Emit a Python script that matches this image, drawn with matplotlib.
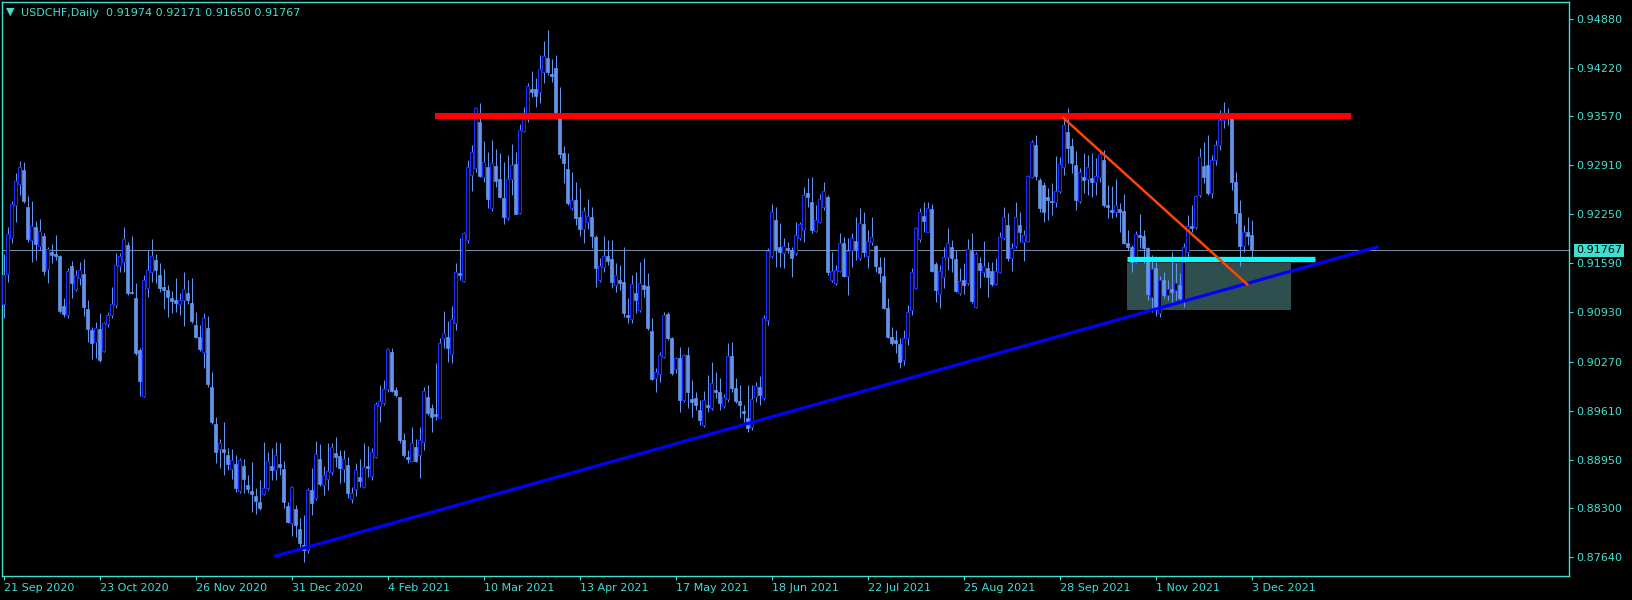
import numpy as np
import matplotlib.pyplot as plt
from matplotlib.patches import Rectangle
import matplotlib.transforms as mtransforms

# USDCHF daily, 21 Sep 2020 .. 3 Dec 2021 (one entry per bar)
opens = [
    0.9104, 0.9145, 0.9193, 0.9237, 0.9266, 0.9285, 0.9235, 0.9190, 0.9208, 0.9182,
    0.9196, 0.9151, 0.9174, 0.9172, 0.9169, 0.9102, 0.9090, 0.9155, 0.9125, 0.9139,
    0.9145, 0.9098, 0.9070, 0.9053, 0.9071, 0.9041, 0.9077, 0.9090, 0.9103, 0.9155,
    0.9161, 0.9184, 0.9120, 0.9112, 0.9043, 0.8981, 0.9126, 0.9147, 0.9164, 0.9143,
    0.9127, 0.9123, 0.9112, 0.9110, 0.9104, 0.9110, 0.9119, 0.9106, 0.9076, 0.9060,
    0.9040, 0.9072, 0.8993, 0.8943, 0.8910, 0.8910, 0.8901, 0.8883, 0.8889, 0.8853,
    0.8887, 0.8861, 0.8853, 0.8846, 0.8838, 0.8849, 0.8857, 0.8887, 0.8881, 0.8889,
    0.8883, 0.8833, 0.8810, 0.8829, 0.8802, 0.8781, 0.8774, 0.8854, 0.8844, 0.8896,
    0.8861, 0.8869, 0.8879, 0.8904, 0.8900, 0.8883, 0.8888, 0.8842, 0.8856, 0.8872,
    0.8858, 0.8887, 0.8873, 0.8899, 0.8967, 0.8971, 0.8990, 0.9040, 0.8989, 0.8979,
    0.8922, 0.8899, 0.8893, 0.8912, 0.8901, 0.8919, 0.8979, 0.8965, 0.8957, 0.8951,
    0.9059, 0.9060, 0.9037, 0.9079, 0.9146, 0.9135, 0.9190, 0.9278, 0.9287, 0.9349,
    0.9275, 0.9288, 0.9233, 0.9290, 0.9272, 0.9247, 0.9220, 0.9272, 0.9292, 0.9227,
    0.9337, 0.9353, 0.9393, 0.9393, 0.9389, 0.9416, 0.9435, 0.9413, 0.9422, 0.9358,
    0.9307, 0.9286, 0.9233, 0.9244, 0.9221, 0.9205, 0.9215, 0.9221, 0.9194, 0.9137,
    0.9154, 0.9169, 0.9165, 0.9130, 0.9137, 0.9134, 0.9090, 0.9084, 0.9119, 0.9096,
    0.9130, 0.9129, 0.9068, 0.9005, 0.9010, 0.9033, 0.9091, 0.9059, 0.9017, 0.9032,
    0.8975, 0.9036, 0.8977, 0.8978, 0.8962, 0.8942, 0.8969, 0.8965, 0.8989, 0.8986,
    0.8967, 0.8977, 0.9035, 0.8992, 0.8974, 0.8961, 0.8951, 0.8939, 0.8979, 0.8993,
    0.8978, 0.9083, 0.9169, 0.9217, 0.9181, 0.9173, 0.9180, 0.9177, 0.9173, 0.9193,
    0.9204, 0.9254, 0.9241, 0.9203, 0.9215, 0.9235, 0.9248, 0.9137, 0.9133, 0.9149,
    0.9186, 0.9142, 0.9177, 0.9189, 0.9166, 0.9212, 0.9169, 0.9188, 0.9182, 0.9154,
    0.9142, 0.9099, 0.9060, 0.9056, 0.9051, 0.9029, 0.9059, 0.9096, 0.9126, 0.9192,
    0.9223, 0.9201, 0.9232, 0.9158, 0.9118, 0.9141, 0.9167, 0.9181, 0.9165, 0.9119,
    0.9137, 0.9133, 0.9176, 0.9100, 0.9160, 0.9147, 0.9153, 0.9149, 0.9131, 0.9147,
    0.9193, 0.9211, 0.9166, 0.9182, 0.9211, 0.9188, 0.9189, 0.9275, 0.9318, 0.9271,
    0.9264, 0.9248, 0.9243, 0.9241, 0.9256, 0.9288, 0.9335, 0.9317, 0.9291, 0.9243,
    0.9275, 0.9272, 0.9274, 0.9268, 0.9275, 0.9298, 0.9237, 0.9231, 0.9228, 0.9232,
    0.9229, 0.9186, 0.9181, 0.9161, 0.9197, 0.9196, 0.9180, 0.9114, 0.9153, 0.9092,
    0.9137, 0.9116, 0.9125, 0.9123, 0.9130, 0.9110, 0.9174, 0.9209, 0.9208, 0.9251,
    0.9290, 0.9291, 0.9254, 0.9298, 0.9318, 0.9352, 0.9361, 0.9354, 0.9268, 0.9227,
    0.9182, 0.9201, 0.91974,
]
highs = [
    0.9172, 0.9208, 0.9243, 0.9280, 0.9297, 0.9295, 0.9249, 0.9243, 0.9216, 0.9219,
    0.9200, 0.9181, 0.9185, 0.9197, 0.9170, 0.9112, 0.9153, 0.9162, 0.9150, 0.9161,
    0.9165, 0.9110, 0.9073, 0.9080, 0.9092, 0.9080, 0.9094, 0.9127, 0.9173, 0.9173,
    0.9208, 0.9188, 0.9196, 0.9133, 0.9045, 0.9143, 0.9177, 0.9192, 0.9172, 0.9160,
    0.9151, 0.9130, 0.9122, 0.9139, 0.9119, 0.9147, 0.9137, 0.9139, 0.9094, 0.9076,
    0.9092, 0.9088, 0.9013, 0.8953, 0.8923, 0.8946, 0.8911, 0.8910, 0.8901, 0.8897,
    0.8896, 0.8875, 0.8892, 0.8857, 0.8868, 0.8919, 0.8905, 0.8911, 0.8919, 0.8918,
    0.8893, 0.8838, 0.8860, 0.8834, 0.8817, 0.8821, 0.8857, 0.8884, 0.8920, 0.8916,
    0.8887, 0.8918, 0.8918, 0.8926, 0.8908, 0.8908, 0.8899, 0.8858, 0.8891, 0.8896,
    0.8918, 0.8914, 0.8911, 0.8973, 0.8996, 0.9002, 0.9045, 0.9045, 0.8993, 0.8979,
    0.8931, 0.8908, 0.8939, 0.8923, 0.8939, 0.8993, 0.8996, 0.8970, 0.9025, 0.9059,
    0.9095, 0.9082, 0.9102, 0.9160, 0.9193, 0.9201, 0.9298, 0.9318, 0.9369, 0.9374,
    0.9323, 0.9309, 0.9325, 0.9313, 0.9307, 0.9295, 0.9305, 0.9319, 0.9309, 0.9346,
    0.9369, 0.9401, 0.9417, 0.9408, 0.9439, 0.9458, 0.9473, 0.9434, 0.9439, 0.9396,
    0.9317, 0.9307, 0.9282, 0.9268, 0.9260, 0.9235, 0.9246, 0.9235, 0.9197, 0.9166,
    0.9196, 0.9190, 0.9190, 0.9160, 0.9157, 0.9181, 0.9112, 0.9143, 0.9147, 0.9161,
    0.9166, 0.9146, 0.9086, 0.9018, 0.9040, 0.9094, 0.9094, 0.9060, 0.9033, 0.9047,
    0.9037, 0.9047, 0.9002, 0.8986, 0.8975, 0.8988, 0.9009, 0.9026, 0.9013, 0.9005,
    0.8984, 0.9052, 0.9053, 0.9005, 0.8996, 0.8969, 0.8996, 0.8996, 0.9000, 0.9008,
    0.9090, 0.9180, 0.9239, 0.9235, 0.9213, 0.9193, 0.9188, 0.9181, 0.9215, 0.9215,
    0.9262, 0.9274, 0.9275, 0.9237, 0.9252, 0.9268, 0.9251, 0.9174, 0.9157, 0.9200,
    0.9194, 0.9193, 0.9200, 0.9221, 0.9233, 0.9228, 0.9204, 0.9221, 0.9184, 0.9167,
    0.9167, 0.9112, 0.9073, 0.9070, 0.9059, 0.9070, 0.9103, 0.9153, 0.9208, 0.9233,
    0.9241, 0.9241, 0.9239, 0.9161, 0.9157, 0.9181, 0.9207, 0.9190, 0.9177, 0.9153,
    0.9160, 0.9192, 0.9200, 0.9174, 0.9168, 0.9189, 0.9161, 0.9161, 0.9166, 0.9201,
    0.9235, 0.9227, 0.9186, 0.9241, 0.9228, 0.9204, 0.9278, 0.9325, 0.9332, 0.9274,
    0.9268, 0.9260, 0.9267, 0.9303, 0.9302, 0.9354, 0.9368, 0.9327, 0.9310, 0.9287,
    0.9307, 0.9305, 0.9307, 0.9301, 0.9311, 0.9311, 0.9264, 0.9263, 0.9272, 0.9240,
    0.9252, 0.9204, 0.9184, 0.9203, 0.9225, 0.9204, 0.9181, 0.9170, 0.9161, 0.9142,
    0.9147, 0.9137, 0.9174, 0.9160, 0.9146, 0.9186, 0.9224, 0.9237, 0.9251, 0.9314,
    0.9322, 0.9331, 0.9305, 0.9325, 0.9365, 0.9376, 0.9368, 0.9358, 0.9282, 0.9244,
    0.9211, 0.9221, 0.92171,
]
lows = [
    0.9086, 0.9134, 0.9186, 0.9215, 0.9251, 0.9240, 0.9188, 0.9161, 0.9164, 0.9177,
    0.9143, 0.9133, 0.9160, 0.9164, 0.9092, 0.9087, 0.9086, 0.9112, 0.9122, 0.9130,
    0.9088, 0.9053, 0.9030, 0.9032, 0.9026, 0.9040, 0.9073, 0.9086, 0.9099, 0.9147,
    0.9147, 0.9116, 0.9118, 0.9036, 0.8981, 0.8979, 0.9114, 0.9134, 0.9133, 0.9120,
    0.9098, 0.9087, 0.9092, 0.9094, 0.9090, 0.9075, 0.9104, 0.9079, 0.9059, 0.9041,
    0.9018, 0.8993, 0.8943, 0.8891, 0.8884, 0.8875, 0.8881, 0.8869, 0.8852, 0.8850,
    0.8850, 0.8850, 0.8825, 0.8822, 0.8828, 0.8848, 0.8854, 0.8868, 0.8868, 0.8875,
    0.8830, 0.8810, 0.8793, 0.8791, 0.8777, 0.8758, 0.8770, 0.8821, 0.8841, 0.8860,
    0.8848, 0.8854, 0.8875, 0.8885, 0.8864, 0.8865, 0.8844, 0.8837, 0.8846, 0.8858,
    0.8857, 0.8872, 0.8868, 0.8898, 0.8946, 0.8969, 0.8986, 0.8986, 0.8979, 0.8918,
    0.8899, 0.8891, 0.8892, 0.8892, 0.8871, 0.8908, 0.8955, 0.8932, 0.8949, 0.8951,
    0.9045, 0.9026, 0.9025, 0.9070, 0.9137, 0.9134, 0.9186, 0.9256, 0.9282, 0.9275,
    0.9268, 0.9233, 0.9229, 0.9262, 0.9247, 0.9212, 0.9217, 0.9251, 0.9225, 0.9225,
    0.9335, 0.9349, 0.9383, 0.9369, 0.9374, 0.9401, 0.9412, 0.9403, 0.9353, 0.9301,
    0.9267, 0.9237, 0.9231, 0.9211, 0.9196, 0.9186, 0.9205, 0.9180, 0.9127, 0.9134,
    0.9147, 0.9157, 0.9126, 0.9120, 0.9123, 0.9087, 0.9079, 0.9079, 0.9092, 0.9094,
    0.9114, 0.9070, 0.9002, 0.8986, 0.9000, 0.9032, 0.9056, 0.9009, 0.9012, 0.8959,
    0.8973, 0.8965, 0.8953, 0.8962, 0.8942, 0.8939, 0.8959, 0.8962, 0.8978, 0.8962,
    0.8965, 0.8973, 0.8986, 0.8971, 0.8951, 0.8946, 0.8932, 0.8935, 0.8973, 0.8969,
    0.8975, 0.9076, 0.9166, 0.9154, 0.9154, 0.9153, 0.9173, 0.9141, 0.9170, 0.9190,
    0.9188, 0.9235, 0.9200, 0.9201, 0.9213, 0.9231, 0.9143, 0.9134, 0.9130, 0.9147,
    0.9141, 0.9116, 0.9154, 0.9164, 0.9164, 0.9168, 0.9153, 0.9184, 0.9147, 0.9134,
    0.9098, 0.9059, 0.9049, 0.9039, 0.9018, 0.9022, 0.9049, 0.9090, 0.9125, 0.9188,
    0.9201, 0.9201, 0.9147, 0.9107, 0.9099, 0.9126, 0.9150, 0.9147, 0.9120, 0.9116,
    0.9118, 0.9130, 0.9106, 0.9099, 0.9126, 0.9141, 0.9114, 0.9128, 0.9130, 0.9146,
    0.9190, 0.9162, 0.9149, 0.9180, 0.9188, 0.9162, 0.9188, 0.9274, 0.9271, 0.9228,
    0.9215, 0.9217, 0.9224, 0.9235, 0.9253, 0.9278, 0.9294, 0.9280, 0.9231, 0.9240,
    0.9254, 0.9251, 0.9248, 0.9251, 0.9268, 0.9235, 0.9220, 0.9220, 0.9221, 0.9201,
    0.9185, 0.9177, 0.9147, 0.9160, 0.9180, 0.9160, 0.9110, 0.9094, 0.9088, 0.9087,
    0.9112, 0.9110, 0.9103, 0.9110, 0.9107, 0.9100, 0.9168, 0.9201, 0.9205, 0.9248,
    0.9267, 0.9251, 0.9247, 0.9291, 0.9311, 0.9341, 0.9345, 0.9258, 0.9213, 0.9155,
    0.9174, 0.9184, 0.91650,
]
closes = [
    0.9143, 0.9198, 0.9239, 0.9270, 0.9288, 0.9243, 0.9192, 0.9209, 0.9185, 0.9203,
    0.9149, 0.9178, 0.9170, 0.9169, 0.9095, 0.9091, 0.9149, 0.9133, 0.9143, 0.9150,
    0.9100, 0.9071, 0.9052, 0.9072, 0.9029, 0.9079, 0.9090, 0.9104, 0.9157, 0.9169,
    0.9192, 0.9119, 0.9119, 0.9039, 0.9001, 0.9137, 0.9150, 0.9169, 0.9150, 0.9126,
    0.9123, 0.9114, 0.9108, 0.9106, 0.9110, 0.9125, 0.9110, 0.9082, 0.9060, 0.9044,
    0.9086, 0.8997, 0.8946, 0.8905, 0.8918, 0.8905, 0.8889, 0.8895, 0.8857, 0.8895,
    0.8869, 0.8856, 0.8849, 0.8840, 0.8830, 0.8857, 0.8893, 0.8881, 0.8901, 0.8885,
    0.8838, 0.8811, 0.8858, 0.8807, 0.8783, 0.8774, 0.8854, 0.8837, 0.8903, 0.8862,
    0.8875, 0.8880, 0.8912, 0.8899, 0.8884, 0.8896, 0.8850, 0.8850, 0.8881, 0.8867,
    0.8885, 0.8884, 0.8905, 0.8970, 0.8974, 0.8990, 0.9044, 0.8988, 0.8982, 0.8922,
    0.8901, 0.8896, 0.8918, 0.8893, 0.8922, 0.8988, 0.8958, 0.8953, 0.8954, 0.9052,
    0.9065, 0.9045, 0.9084, 0.9147, 0.9143, 0.9200, 0.9288, 0.9309, 0.9368, 0.9276,
    0.9295, 0.9245, 0.9294, 0.9270, 0.9248, 0.9221, 0.9272, 0.9291, 0.9225, 0.9338,
    0.9353, 0.9397, 0.9389, 0.9384, 0.9420, 0.9438, 0.9416, 0.9411, 0.9361, 0.9306,
    0.9294, 0.9240, 0.9244, 0.9220, 0.9205, 0.9229, 0.9223, 0.9196, 0.9153, 0.9155,
    0.9169, 0.9162, 0.9134, 0.9143, 0.9133, 0.9092, 0.9087, 0.9131, 0.9110, 0.9133,
    0.9125, 0.9072, 0.9004, 0.9013, 0.9036, 0.9090, 0.9059, 0.9012, 0.9032, 0.8975,
    0.9036, 0.8986, 0.8973, 0.8969, 0.8949, 0.8975, 0.8966, 0.8998, 0.8986, 0.8971,
    0.8979, 0.9035, 0.8992, 0.8974, 0.8969, 0.8958, 0.8938, 0.8977, 0.8994, 0.8982,
    0.9086, 0.9176, 0.9228, 0.9178, 0.9174, 0.9182, 0.9178, 0.9166, 0.9197, 0.9212,
    0.9251, 0.9248, 0.9204, 0.9217, 0.9246, 0.9256, 0.9147, 0.9149, 0.9150, 0.9186,
    0.9142, 0.9176, 0.9193, 0.9178, 0.9213, 0.9174, 0.9189, 0.9194, 0.9155, 0.9146,
    0.9099, 0.9060, 0.9052, 0.9052, 0.9026, 0.9059, 0.9094, 0.9147, 0.9207, 0.9228,
    0.9216, 0.9233, 0.9149, 0.9123, 0.9149, 0.9167, 0.9186, 0.9166, 0.9122, 0.9135,
    0.9130, 0.9178, 0.9108, 0.9172, 0.9150, 0.9155, 0.9141, 0.9131, 0.9149, 0.9194,
    0.9221, 0.9166, 0.9180, 0.9221, 0.9201, 0.9197, 0.9276, 0.9322, 0.9276, 0.9233,
    0.9228, 0.9244, 0.9241, 0.9256, 0.9292, 0.9345, 0.9314, 0.9294, 0.9244, 0.9282,
    0.9271, 0.9288, 0.9268, 0.9276, 0.9306, 0.9237, 0.9235, 0.9228, 0.9237, 0.9228,
    0.9186, 0.9181, 0.9161, 0.9198, 0.9194, 0.9180, 0.9118, 0.9151, 0.9096, 0.9137,
    0.9116, 0.9125, 0.9120, 0.9133, 0.9112, 0.9181, 0.9209, 0.9207, 0.9249, 0.9302,
    0.9275, 0.9254, 0.9298, 0.9318, 0.9352, 0.9361, 0.9354, 0.9268, 0.9227, 0.9182,
    0.9201, 0.9196, 0.91767,
]

date_labels = ['21 Sep 2020', '23 Oct 2020', '26 Nov 2020', '31 Dec 2020', '4 Feb 2021',
               '10 Mar 2021', '13 Apr 2021', '17 May 2021', '18 Jun 2021', '22 Jul 2021',
               '25 Aug 2021', '28 Sep 2021', '1 Nov 2021', '3 Dec 2021']
date_bars = [0, 24, 48, 72, 96, 120, 144, 168, 192, 216, 240, 264, 288, 312]
price_ticks = [0.94880, 0.94220, 0.93570, 0.92910, 0.92250, 0.91590,
               0.90930, 0.90270, 0.89610, 0.88950, 0.88300, 0.87640]

# drawn objects: (bar_start, price_start, bar_end, price_end)
resistance = (107.75, 0.93570, 336.75, 0.93570)
down_trend = (264.8, 0.93547, 310.8, 0.91308)
up_trend = (67.9, 0.87658, 343.25, 0.91810)
support = (280.75, 0.91644, 327.75, 0.91644)
zone = (280.75, 0.90963, 321.7, 0.91599)   # bar0, price_low, bar1, price_high
last_price = 0.91767

FG = '#40e0d0'
WICK = '#6495ed'
BULL_EDGE = '#1a2cff'

o = np.array(opens)
h = np.array(highs)
l = np.array(lows)
c = np.array(closes)
x = np.arange(len(c))
up = c >= o

fig = plt.figure(figsize=(16.33, 6), dpi=100, facecolor='black')
ax = fig.add_axes([2.5 / 1633, 24 / 600, 1566.5 / 1633, 573.7 / 600])
ax.set_facecolor('black')

# zone rectangle in the background
ax.add_patch(Rectangle((zone[0], zone[1]), zone[2] - zone[0], zone[3] - zone[1],
                       facecolor='#2f4f4f', edgecolor='none', zorder=1))
ax.axhline(last_price, color='#778899', lw=0.8, zorder=1.5)

# candles
ax.vlines(x, l, h, color=WICK, lw=0.75, zorder=2)
body_lo = np.minimum(o, c)
body_h = np.maximum(np.abs(c - o), 0.00003)
ax.bar(x[~up], body_h[~up], bottom=body_lo[~up], width=0.75,
       color=WICK, edgecolor=WICK, lw=0.5, zorder=3)
ax.bar(x[up], body_h[up], bottom=body_lo[up], width=0.75,
       facecolor='black', edgecolor=BULL_EDGE, lw=0.8, zorder=3)

# analysis lines
ax.plot(resistance[::2], resistance[1::2], color='#ff0000', lw=4.3,
        solid_capstyle='butt', zorder=5)
ax.plot(support[::2], support[1::2], color='#00ffff', lw=3.8,
        solid_capstyle='butt', zorder=5)
ax.plot(up_trend[::2], up_trend[1::2], color='#0000ff', lw=2.3, zorder=6)
ax.plot(down_trend[::2], down_trend[1::2], color='#ff4500', lw=1.8, zorder=6)

ax.set_xlim(-0.375, 391.25)
ax.set_ylim(0.873889, 0.950977)

for s in ax.spines.values():
    s.set_color(FG)
    s.set_linewidth(1.0)

ax.yaxis.tick_right()
ax.set_yticks(price_ticks)
ax.set_yticklabels(['%.5f' % p for p in price_ticks])
ax.set_xticks(date_bars)
ax.set_xticklabels(date_labels, ha='left')
ax.tick_params(axis='both', colors=FG, labelcolor=FG, labelsize=8,
               length=3, width=0.8, direction='out', pad=2)

# current price tag
trans = mtransforms.blended_transform_factory(ax.transAxes, ax.transData)
ax.text(1.0045, last_price, '%.5f' % last_price, transform=trans, color='black',
        fontsize=8, va='center', ha='left', zorder=10, clip_on=False,
        bbox=dict(facecolor=FG, edgecolor='none', pad=1.2))

# header
fig.text(6 / 1633, 1 - 12 / 600, '\u25bc', color=FG, fontsize=8, va='center')
fig.text(21 / 1633, 1 - 13 / 600, 'USDCHF,Daily  0.91974 0.92171 0.91650 0.91767',
         color=FG, fontsize=8, va='center')

fig.savefig('out.png', dpi=100, facecolor='black')
